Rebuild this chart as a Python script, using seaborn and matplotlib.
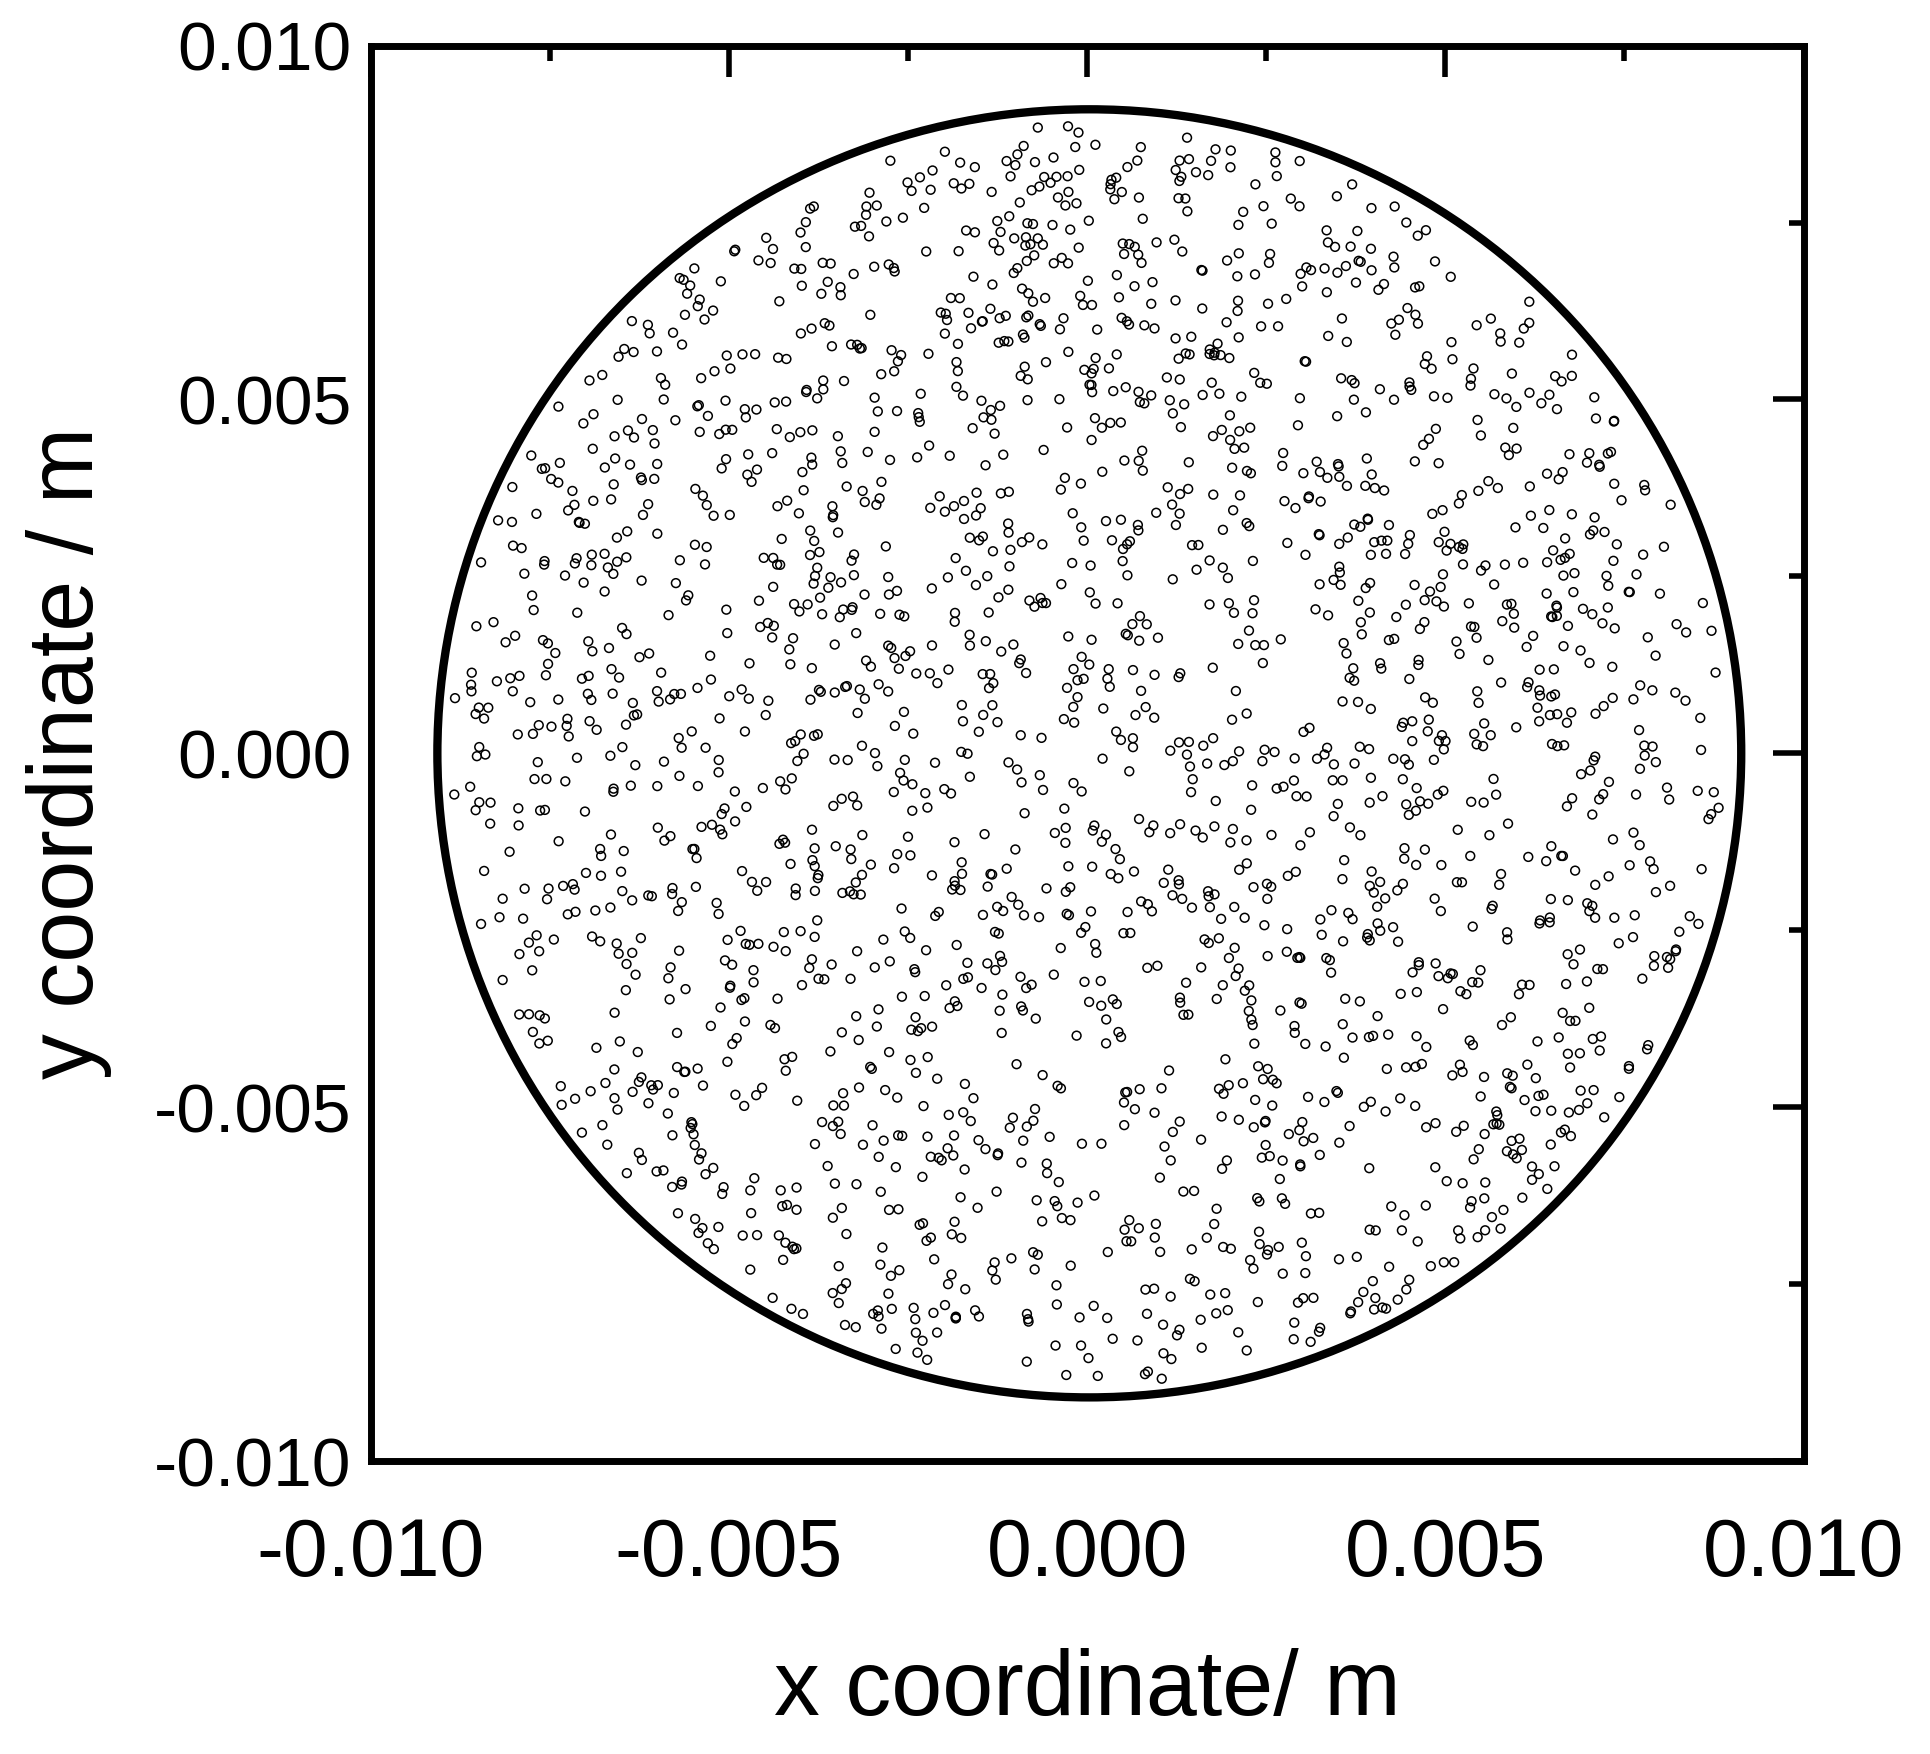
"""Particle positions inside a circular cross-section."""

import matplotlib

matplotlib.use("Agg")

import matplotlib.pyplot as plt
import numpy as np
import seaborn as sns
from matplotlib.patches import Circle
from matplotlib.ticker import MultipleLocator

sns.set_theme(style="white")
plt.rcParams["font.family"] = ["Liberation Sans", "DejaVu Sans"]

# Domain and particle cloud. The ~2200 individual positions cannot be read off
# the picture, so a fixed-seed uniform fill of the disc stands in for them.
DOMAIN_RADIUS = 0.0091
N_PARTICLES = 2200
rng = np.random.default_rng(7)
r = 0.0089 * np.sqrt(rng.random(N_PARTICLES))
theta = 2 * np.pi * rng.random(N_PARTICLES)
x_pos = r * np.cos(theta)
y_pos = r * np.sin(theta)

x_ticks = [-0.010, -0.005, 0.000, 0.005, 0.010]
y_ticks = [-0.010, -0.005, 0.000, 0.005, 0.010]

fig = plt.figure(figsize=(19.31, 17.54), dpi=100)
ax = fig.add_axes([0.192, 0.167, 0.742, 0.807])

sns.scatterplot(x=x_pos, y=y_pos, ax=ax, s=40, facecolor="none",
                edgecolor="black", linewidth=1.1)
ax.add_patch(Circle((0.00003, 0.0), DOMAIN_RADIUS, fill=False,
                    edgecolor="black", linewidth=6))

ax.set_xlim(-0.010, 0.010)
ax.set_ylim(-0.010, 0.010)
ax.set_xticks(x_ticks)
ax.set_yticks(y_ticks)
ax.set_xticklabels([f"{v:.3f}" for v in x_ticks])
ax.set_yticklabels([f"{v:.3f}" for v in y_ticks])
ax.xaxis.set_minor_locator(MultipleLocator(0.0025))
ax.yaxis.set_minor_locator(MultipleLocator(0.0025))
ax.tick_params(which="both", direction="in", top=True, right=True,
               width=4, labelsize=50, pad=14, colors="black")
ax.tick_params(which="major", length=22)
ax.tick_params(which="minor", length=11)
ax.tick_params(axis="x", labelsize=58, pad=40)
for spine in ax.spines.values():
    spine.set_linewidth(5)
    spine.set_color("black")

ax.set_xlabel("x coordinate/ m", fontsize=66, labelpad=40, color="black")
ax.set_ylabel("y coordinate / m", fontsize=66, labelpad=30, color="black")

fig.savefig("out.png", dpi=100)
plt.close(fig)
